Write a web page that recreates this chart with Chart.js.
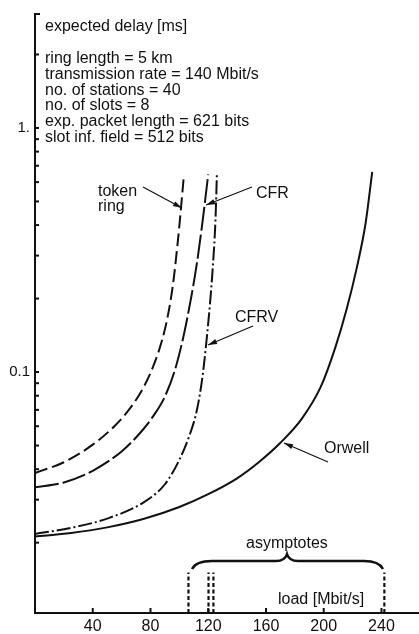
<!DOCTYPE html>
<html><head><meta charset="utf-8">
<script src="https://cdn.jsdelivr.net/npm/chart.js@4.4.1/dist/chart.umd.min.js"></script>
<style>html,body{margin:0;padding:0;background:#fff;}#wrap{width:419px;height:634px;}</style>
</head><body><div id="wrap"><canvas id="c" width="419" height="634"></canvas></div>
<script>
// ---- data ----
const xTickValues = [40, 80, 120, 160, 200, 240];
const yTickValues = [0.02,0.03,0.04,0.05,0.06,0.07,0.08,0.09,0.1,0.2,0.3,0.4,0.5,0.6,0.7,0.8,0.9,1,2];
const yTickLabels = {"0.1": "0.1", "1": "1."};

const loadTokenRing  = [0, 20, 40, 55, 65, 75, 82, 88, 92, 95.5, 98.5, 100.8, 103.2];
const delayTokenRing = [0.0386, 0.0427, 0.0504, 0.0600, 0.0700, 0.0861, 0.1059, 0.1349, 0.1698, 0.2265, 0.3236, 0.4467, 0.6457];

const loadCFR  = [0, 20, 40, 60, 72, 82, 90, 97, 103, 108, 112, 115.5, 118, 120];
const delayCFR = [0.0337, 0.0353, 0.0394, 0.0473, 0.0556, 0.0661, 0.0794, 0.1023, 0.1413, 0.1995, 0.2754, 0.389, 0.5129, 0.6457];

const loadCFRV  = [0, 25, 50, 75, 90, 100, 107, 112, 116, 119, 121.5, 123.5, 125, 126];
const delayCFRV = [0.0217, 0.0230, 0.0251, 0.0292, 0.0347, 0.0437, 0.0550, 0.0692, 0.0955, 0.138, 0.1995, 0.288, 0.417, 0.646];

const loadOrwell  = [0, 25, 50, 75, 100, 120, 140, 155, 170, 185, 198, 208, 216, 223, 229, 233.6];
const delayOrwell = [0.0212, 0.0219, 0.0231, 0.0250, 0.0280, 0.0316, 0.0367, 0.0427, 0.0513, 0.0646, 0.0871, 0.1259, 0.182, 0.269, 0.407, 0.661];

const asymptoteLoads = [106.3, 120.2, 123.6, 242.0];
const asymptoteTop = 0.0151;

const paramLines = [
  "ring length = 5 km",
  "transmission rate = 140 Mbit/s",
  "no. of stations = 40",
  "no. of slots = 8",
  "exp. packet length = 621 bits",
  "slot inf. field = 512 bits"
];

// ---- chart ----
const Y_MIN = 0.0103, Y_MAX = 2.93, X_MAX = 266;
const INK = '#111';
const FONT = '"Liberation Sans", Arial, sans-serif';

function pts(xs, ys) { return xs.map((x, i) => ({x: x, y: ys[i]})); }

const curveStyle = {
  borderColor: INK, backgroundColor: INK, borderWidth: 2, pointRadius: 0,
  fill: false, tension: 0.4, cubicInterpolationMode: 'monotone'
};

const datasets = [
  Object.assign({label: 'token ring', data: pts(loadTokenRing, delayTokenRing), borderDash: [13, 5]}, curveStyle),
  Object.assign({label: 'CFR', data: pts(loadCFR, delayCFR), borderDash: [24, 4]}, curveStyle),
  Object.assign({label: 'CFRV', data: pts(loadCFRV, delayCFRV), borderDash: [14, 3, 2, 3]}, curveStyle),
  Object.assign({label: 'Orwell', data: pts(loadOrwell, delayOrwell), borderWidth: 1.8}, curveStyle)
];
asymptoteLoads.forEach(a => {
  datasets.push({label: 'asymptote', data: [{x: a, y: Y_MIN}, {x: a, y: asymptoteTop}],
    borderColor: INK, borderWidth: 2.2, borderDash: [4, 2.5], pointRadius: 0, tension: 0, fill: false});
});

function arrow(ctx, x0, y0, x1, y1) {
  ctx.beginPath(); ctx.moveTo(x0, y0); ctx.lineTo(x1, y1); ctx.stroke();
  const ang = Math.atan2(y1 - y0, x1 - x0), L = 9, W = 2.6;
  ctx.beginPath();
  ctx.moveTo(x1, y1);
  ctx.lineTo(x1 - L * Math.cos(ang) + W * Math.sin(ang), y1 - L * Math.sin(ang) - W * Math.cos(ang));
  ctx.lineTo(x1 - L * Math.cos(ang) - W * Math.sin(ang), y1 - L * Math.sin(ang) + W * Math.cos(ang));
  ctx.closePath(); ctx.fill();
}

const decor = {
  id: 'decor',
  afterDraw(chart) {
    const ctx = chart.ctx, xs = chart.scales.x, ys = chart.scales.y, ca = chart.chartArea;
    ctx.save();
    ctx.strokeStyle = INK; ctx.fillStyle = INK; ctx.lineWidth = 2;
    // inward ticks on y axis
    yTickValues.forEach(v => {
      const py = ys.getPixelForValue(v);
      ctx.beginPath(); ctx.moveTo(ca.left, py); ctx.lineTo(ca.left + 4, py); ctx.stroke();
    });
    // top cap of y axis
    ctx.beginPath(); ctx.moveTo(ca.left - 1, ca.top); ctx.lineTo(ca.left + 5, ca.top); ctx.stroke();
    // inward ticks on x axis
    xTickValues.forEach(v => {
      const px = xs.getPixelForValue(v);
      ctx.beginPath(); ctx.moveTo(px, ca.bottom); ctx.lineTo(px, ca.bottom - 5); ctx.stroke();
    });
    // texts
    ctx.font = '16px ' + FONT;
    ctx.textAlign = 'left'; ctx.textBaseline = 'alphabetic';
    ctx.fillText('expected delay [ms]', 45, 31);
    paramLines.forEach((t, i) => ctx.fillText(t, 45, 63 + i * 15.8));
    ctx.fillText('token', 98, 196);
    ctx.fillText('ring', 98, 211);
    ctx.fillText('CFR', 256, 198);
    ctx.fillText('CFRV', 235, 322);
    ctx.fillText('Orwell', 324, 453);
    ctx.fillText('asymptotes', 246, 548);
    ctx.fillText('load [Mbit/s]', 278, 604);
    // arrows
    ctx.lineWidth = 1.2;
    arrow(ctx, 143, 187, 182, 208);
    arrow(ctx, 252, 187, 206, 205);
    arrow(ctx, 253, 326, 208, 345);
    arrow(ctx, 328, 462, 284, 443);
    // brace
    ctx.lineWidth = 2.4;
    ctx.beginPath();
    ctx.moveTo(192, 569);
    ctx.quadraticCurveTo(196, 561, 212, 561);
    ctx.lineTo(276, 561);
    ctx.quadraticCurveTo(285, 561, 287, 554);
    ctx.quadraticCurveTo(289, 561, 298, 561);
    ctx.lineTo(364, 561);
    ctx.quadraticCurveTo(379, 561, 383, 569);
    ctx.stroke();
    ctx.restore();
  }
};

new Chart(document.getElementById('c'), {
  type: 'line',
  data: {datasets: datasets},
  plugins: [decor],
  options: {
    responsive: false, animation: false, devicePixelRatio: 1,
    layout: {padding: {top: 14, left: 0, right: 0, bottom: 0}},
    plugins: {legend: {display: false}, tooltip: {enabled: false}},
    scales: {
      x: {
        type: 'linear', min: 0, max: X_MAX,
        grid: {display: false, drawTicks: false},
        border: {display: true, color: INK, width: 2},
        afterBuildTicks: s => { s.ticks = xTickValues.map(v => ({value: v})); },
        afterFit: s => { s.height = 21; },
        ticks: {color: INK, padding: 4, font: {family: FONT, size: 16}, maxRotation: 0, autoSkip: false,
          callback: v => String(v)}
      },
      y: {
        type: 'logarithmic', min: Y_MIN, max: Y_MAX,
        grid: {display: false, drawTicks: false},
        border: {display: true, color: INK, width: 2},
        afterBuildTicks: s => { s.ticks = yTickValues.map(v => ({value: v})); },
        afterFit: s => { s.width = 35; },
        ticks: {color: INK, padding: 5, font: {family: FONT, size: 15}, autoSkip: false,
          callback: v => (yTickLabels[String(v)] || '')}
      }
    }
  }
});
</script>
</body></html>
